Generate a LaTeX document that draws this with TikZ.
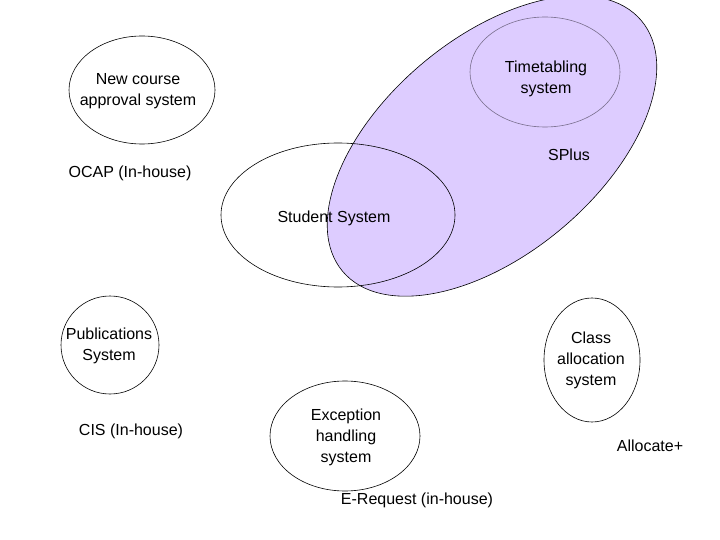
\documentclass[tikz,border=0pt]{standalone}
\usepackage{fontspec}
\setmainfont{Liberation Sans}
\begin{document}
\begin{tikzpicture}[x=1pt,y=-1pt,
  ell/.style={draw=black,line width=0.6pt},
  lbl/.style={font=\fontsize{16}{21}\selectfont,align=center,inner sep=0pt}]
\useasboundingbox (0,0) rectangle (720,540);
\fill[white] (0,0) rectangle (720,540);
\path[fill={rgb,255:red,221;green,204;blue,255},draw=black,line width=0.6pt] (492,146) coordinate (bigc) ellipse[x radius=195,y radius=108,rotate=40];
\draw[ell,draw={rgb,255:red,120;green,110;blue,140}] (545,72) coordinate (ttc) ellipse[x radius=75,y radius=55];
\draw[ell] (142,90) coordinate (ncc) ellipse[x radius=73,y radius=54];
\draw[ell] (338,215) coordinate (ssc) ellipse[x radius=117,y radius=72];
\draw[ell] (110,345) coordinate (pbc) ellipse[x radius=49,y radius=49];
\draw[ell] (592,360) coordinate (cac) ellipse[x radius=48,y radius=62];
\draw[ell] (345,436) coordinate (exc) ellipse[x radius=75,y radius=55];
\node[lbl] (nc) at (138,91) {New course\\approval system};
\node[lbl] (tt) at (546,79) {Timetabling\\system};
\node[lbl] (ocap) at (130,173) {OCAP (In-house)};
\node[lbl] (sp) at (569,155) {SPlus};
\node[lbl] (ss) at (334,218) {Student System};
\node[lbl] (pb) at (109,346) {Publications\\System};
\node[lbl] (ca) at (591,360) {Class\\allocation\\system};
\node[lbl] (cis) at (131,431) {CIS (In-house)};
\node[lbl] (ex) at (346,437) {Exception\\handling\\system};
\node[lbl] (al) at (650,446) {Allocate+};
\node[lbl] (er) at (417,500) {E-Request (in-house)};
\end{tikzpicture}
\end{document}
